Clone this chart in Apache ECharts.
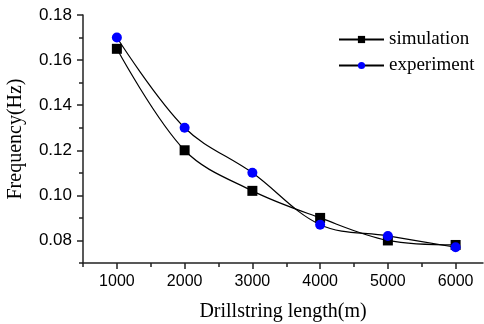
<!DOCTYPE html>
<html><head><meta charset="utf-8">
<script src="https://cdn.jsdelivr.net/npm/echarts@6/dist/echarts.min.js"></script>
<style>html,body{margin:0;padding:0;background:#fff}#c{width:484px;height:324px}</style>
</head><body><div id="c"></div>
<script>
var xValues = [1000, 2000, 3000, 4000, 5000, 6000];
var simulation = [0.165, 0.120, 0.102, 0.090, 0.080, 0.078];
var experiment = [0.170, 0.130, 0.110, 0.087, 0.082, 0.077];
var xMajorTicks = [1000, 2000, 3000, 4000, 5000, 6000];
var xMinorTicks = [500, 1500, 2500, 3500, 4500, 5500];
var yMajorTicks = [0.08, 0.10, 0.12, 0.14, 0.16, 0.18];
var yMinorTicks = [0.07, 0.09, 0.11, 0.13, 0.15, 0.17];

var chart = echarts.init(document.getElementById('c'));
var axisColor = '#222';
var sans = 'Liberation Sans';
var serif = 'Liberation Serif';
function pairs(ys){ return xValues.map(function(x,i){return [x, ys[i]];}); }
chart.setOption({
  animation: false,
  grid: {left: 83, top: 15, right: 1, bottom: 61, outerBoundsMode: 'none', containLabel: false},
  legend: {
    orient: 'vertical', left: 333, top: 25, itemWidth: 45, itemHeight: 9, itemGap: 7,
    textStyle: {fontFamily: serif, fontSize: 19, color: '#000'},
    data: ['simulation', 'experiment']
  },
  xAxis: [{
    type: 'value', min: 500, max: 6404,
    name: 'Drillstring length(m)', nameLocation: 'middle', nameGap: 39,
    nameTextStyle: {fontFamily: serif, fontSize: 20, color: '#000'},
    axisLine: {show: true, lineStyle: {color: axisColor, width: 1.5}},
    axisTick: {show: true, length: 6, customValues: xMajorTicks, lineStyle: {color: axisColor, width: 1.5}},
    axisLabel: {customValues: xMajorTicks, margin: 11, fontFamily: sans, fontSize: 16, color: '#000',
      formatter: function(v){return String(v);}},
    splitLine: {show: false}
  }, {
    type: 'value', min: 500, max: 6404, position: 'bottom',
    axisLine: {show: false},
    axisTick: {show: true, length: 4, customValues: xMinorTicks, lineStyle: {color: axisColor, width: 1.5}},
    axisLabel: {show: false}, splitLine: {show: false}
  }],
  yAxis: [{
    type: 'value', min: 0.07, max: 0.18,
    name: 'Frequency(Hz)', nameLocation: 'middle', nameGap: 57,
    nameTextStyle: {fontFamily: serif, fontSize: 20, color: '#000'},
    axisLine: {show: true, lineStyle: {color: axisColor, width: 1.5}},
    axisTick: {show: true, length: 6, customValues: yMajorTicks, lineStyle: {color: axisColor, width: 1.5}},
    axisLabel: {customValues: yMajorTicks, margin: 11, fontFamily: sans, fontSize: 17, color: '#000',
      formatter: function(v){return v.toFixed(2);}},
    splitLine: {show: false}
  }, {
    type: 'value', min: 0.07, max: 0.18, position: 'left',
    axisLine: {show: false},
    axisTick: {show: true, length: 4, customValues: yMinorTicks, lineStyle: {color: axisColor, width: 1.5}},
    axisLabel: {show: false}, splitLine: {show: false}
  }],
  series: [{
    name: 'simulation', type: 'line', data: pairs(simulation), smooth: 0.35,
    symbol: 'rect', symbolSize: 10,
    itemStyle: {color: '#000'}, lineStyle: {color: '#000', width: 1.2}
  }, {
    name: 'experiment', type: 'line', data: pairs(experiment), smooth: 0.35,
    symbol: 'circle', symbolSize: 10,
    itemStyle: {color: '#0000ff'}, lineStyle: {color: '#000', width: 1.2}
  }]
});
</script></body></html>
